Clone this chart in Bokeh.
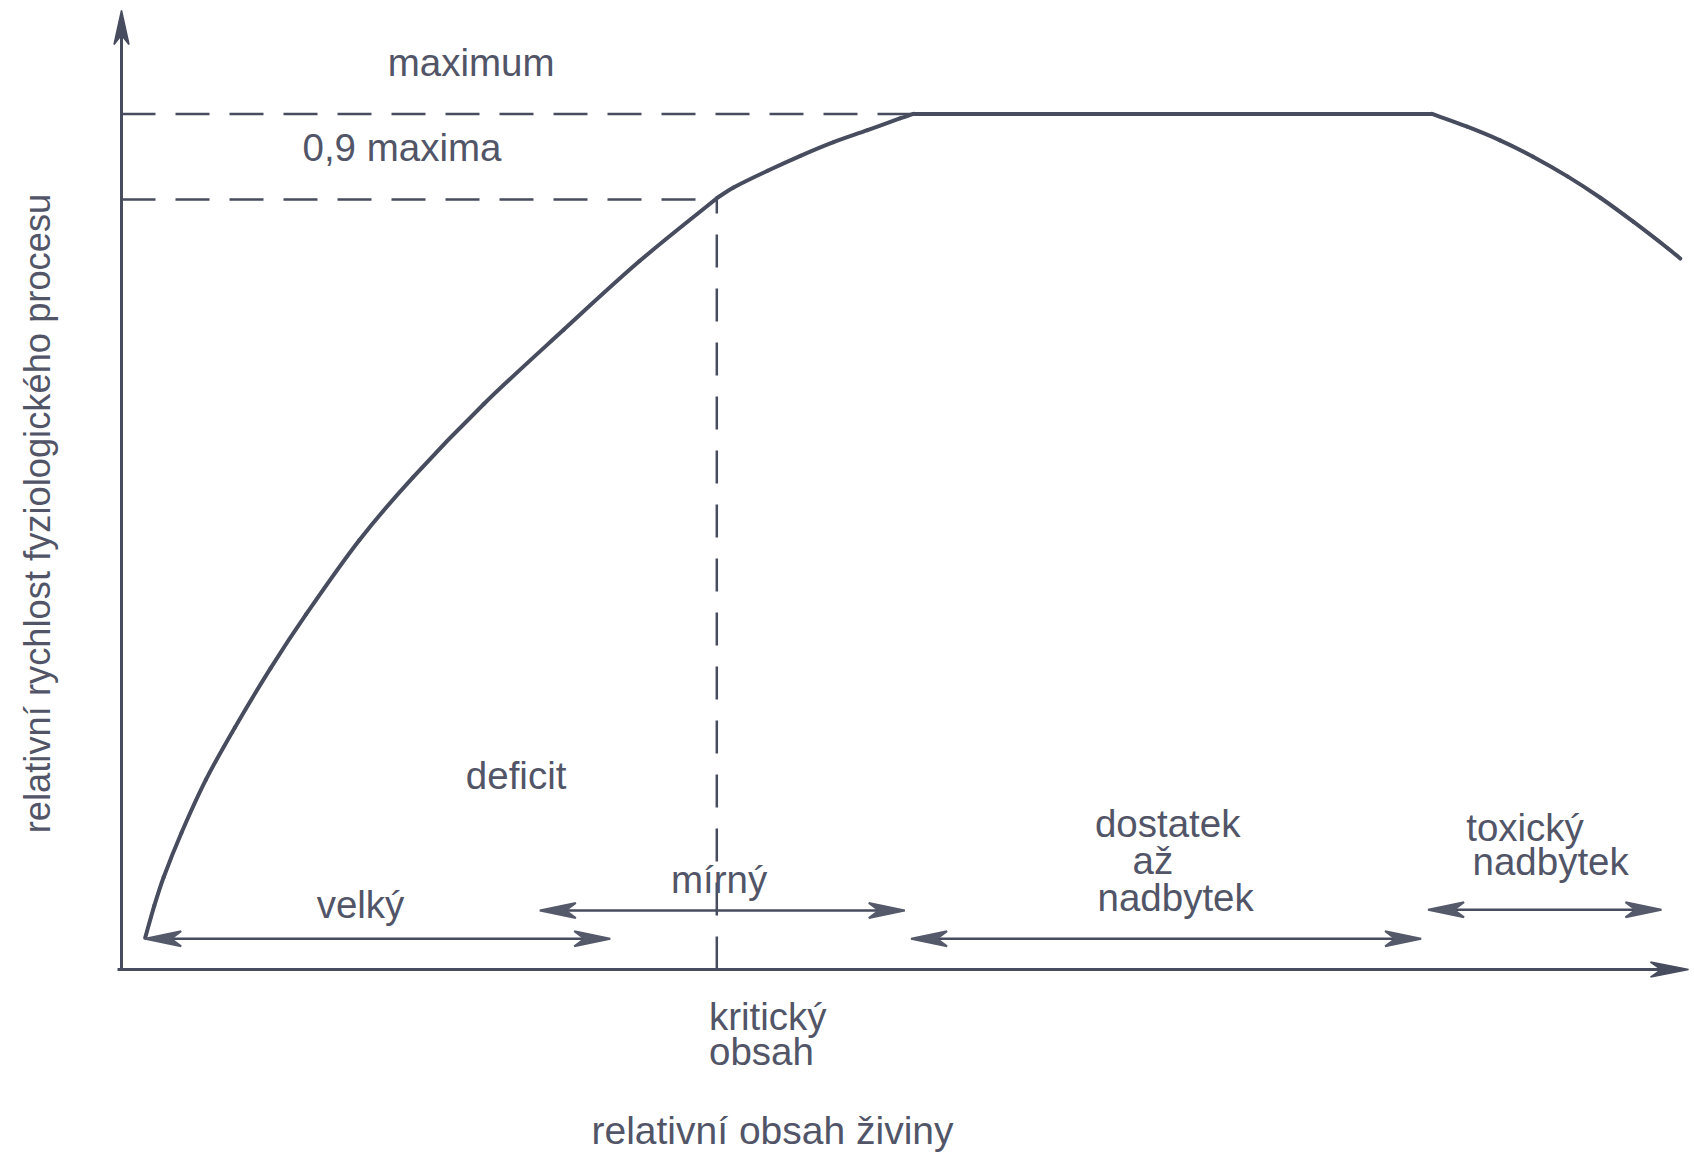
import math
from bokeh.plotting import figure
from bokeh.models import Range1d, ColumnDataSource, Label
from bokeh.core.properties import value
from bokeh.embed import file_html
from bokeh.resources import INLINE

# ---------------- data ----------------
nutrient = [1.51, 2.10, 2.69, 3.83, 5.39, 7.24, 9.51, 11.78, 15.19, 18.59, 23.13,
            28.24, 33.07, 38.0, 39.07, 41.24, 43.34, 45.45, 47.62, 49.73, 50.55,
            83.65, 85.9, 88.0, 90.1, 92.3, 94.4, 96.5, 98.7, 99.5]
rate = [0.037, 0.075, 0.108, 0.160, 0.222, 0.283, 0.352, 0.415, 0.502, 0.575, 0.661,
        0.748, 0.828, 0.9015, 0.914, 0.9335, 0.951, 0.967, 0.981, 0.995, 1.0,
        1.0, 0.985, 0.969, 0.950, 0.927, 0.902, 0.874, 0.843, 0.831]

maximum_rate = 1.0
critical_rate = 0.9
critical_content = 38.0
plateau_start = 50.55
plateau_end = 83.65

zone_names = ["velký", "mírný", "dostatek až nadbytek", "toxický nadbytek"]
zone_start = [1.51, 26.7, 50.4, 83.4]
zone_end = [31.2, 50.0, 82.96, 98.3]
zone_level = [0.036, 0.069, 0.036, 0.070]

label_texts = ["maximum", "0,9 maxima", "deficit", "velký", "mírný",
               "dostatek", "až", "nadbytek", "toxický", "nadbytek",
               "kritický", "obsah", "relativní obsah živiny"]
y_title = "relativní rychlost fyziologického procesu"

# --------------- layout ---------------
W, H = 1694, 1156
PX_X = 15.666   # pixels per x unit
PX_Y = 855.7    # pixels per y unit
ORIGIN_X = 121.0
ORIGIN_Y = 969.1

def dx(px):
    return (px - ORIGIN_X) / PX_X

def dy(py):
    return (ORIGIN_Y - py) / PX_Y

label_x = [dx(v) for v in [470.6, 401.5, 515.6, 360.0, 718.5, 1094.4, 1132.0, 1097.0,
                           1465.7, 1472.0, 708.5, 708.5, 772.0]]
label_y = [dy(v) for v in [61.7, 147.2, 774.7, 903.7, 878.8, 823.4, 859.6, 896.5,
                           826.5, 861.2, 1015.5, 1051.0, 1130.0]]
label_align = ["center", "center", "center", "center", "center", "left", "left", "left",
               "left", "left", "left", "left", "center"]
label_size = ["38.5px"] * 12 + ["39px"]

LINE = "#474c5e"
HEAD = "#555a6b"
TEXT = "#515567"
FONT = "Liberation Sans"

p = figure(width=W, height=H, x_range=Range1d(dx(0), dx(W)),
           y_range=Range1d(dy(H), dy(0)), output_backend="svg",
           toolbar_location=None, x_axis_type=None, y_axis_type=None,
           min_border=0, min_border_left=0, min_border_right=0,
           min_border_top=0, min_border_bottom=0, outline_line_color=None,
           background_fill_color="white", border_fill_color="white")

# axes (drawn as arrows)
x_tip = dx(1688)
y_tip = dy(10)
p.line([dx(117), x_tip - 20 / PX_X], [0, 0], line_color=LINE, line_width=3)
p.line([0, 0], [0, y_tip - 20 / PX_Y], line_color=LINE, line_width=3)

def head(xt, yt, direction, L=36.0, w=7.5, notch=0.72):
    if direction in ("right", "left"):
        d = 1 if direction == "right" else -1
        xs = [xt, xt - d * L / PX_X, xt - d * notch * L / PX_X, xt - d * L / PX_X]
        ys = [yt, yt + w / PX_Y, yt, yt - w / PX_Y]
    else:
        xs = [xt, xt + w / PX_X, xt, xt - w / PX_X]
        ys = [yt, yt - L / PX_Y, yt - notch * L / PX_Y, yt - L / PX_Y]
    return xs, ys

hx, hy = [], []
for xs, ys in [head(x_tip, 0, "right", L=38, w=7.5), head(0, y_tip, "up", L=34, w=7.5)]:
    hx.append(xs); hy.append(ys)
p.patches(hx, hy, fill_color=LINE, line_color=LINE, line_width=1.5)

# dashed guide lines
p.line([0, plateau_start], [maximum_rate, maximum_rate], line_color=LINE,
       line_width=2.5, line_dash="34 20")
p.line([0, critical_content], [critical_rate, critical_rate], line_color=LINE,
       line_width=2.5, line_dash="34 20")
p.line([critical_content, critical_content], [0, critical_rate], line_color=LINE,
       line_width=2.5, line_dash="33 21")

# response curve: smooth rendering through the read points (piecewise, with
# corners kept at the critical point and at both ends of the plateau)
def bezier_pieces(xs, ys):
    P = [(x * PX_X, y * PX_Y) for x, y in zip(xs, ys)]
    n = len(P)
    d = [math.hypot(P[i + 1][0] - P[i][0], P[i + 1][1] - P[i][1]) for i in range(n - 1)]
    T = []
    for i in range(n):
        if i == 0:
            T.append(((P[1][0] - P[0][0]) / d[0], (P[1][1] - P[0][1]) / d[0]))
        elif i == n - 1:
            T.append(((P[-1][0] - P[-2][0]) / d[-1], (P[-1][1] - P[-2][1]) / d[-1]))
        else:
            s = d[i - 1] + d[i]
            T.append(((P[i + 1][0] - P[i - 1][0]) / s, (P[i + 1][1] - P[i - 1][1]) / s))
    out = dict(x0=[], y0=[], x1=[], y1=[], cx0=[], cy0=[], cx1=[], cy1=[])
    for i in range(n - 1):
        a, b = P[i], P[i + 1]
        c0 = (a[0] + T[i][0] * d[i] / 3, a[1] + T[i][1] * d[i] / 3)
        c1 = (b[0] - T[i + 1][0] * d[i] / 3, b[1] - T[i + 1][1] * d[i] / 3)
        out["x0"].append(a[0] / PX_X); out["y0"].append(a[1] / PX_Y)
        out["x1"].append(b[0] / PX_X); out["y1"].append(b[1] / PX_Y)
        out["cx0"].append(c0[0] / PX_X); out["cy0"].append(c0[1] / PX_Y)
        out["cx1"].append(c1[0] / PX_X); out["cy1"].append(c1[1] / PX_Y)
    return out

i_crit = nutrient.index(critical_content)
i_ps = nutrient.index(plateau_start)
i_pe = nutrient.index(plateau_end)
pieces = [(0, i_crit), (i_crit, i_ps), (i_pe, len(nutrient) - 1)]
for a, b in pieces:
    seg = bezier_pieces(nutrient[a:b + 1], rate[a:b + 1])
    p.bezier(source=ColumnDataSource(seg), x0="x0", y0="y0", x1="x1", y1="y1",
             cx0="cx0", cy0="cy0", cx1="cx1", cy1="cy1",
             line_color=LINE, line_width=4, line_cap="round")
p.line(nutrient[i_ps:i_pe + 1], rate[i_ps:i_pe + 1], line_color=LINE, line_width=4,
       line_cap="round")

# zone double arrows
ax, ay = [], []
for s, e, lv in zip(zone_start, zone_end, zone_level):
    p.line([s + 20 / PX_X, e - 20 / PX_X], [lv, lv], line_color=LINE, line_width=2.5)
    for xs, ys in [head(s, lv, "left"), head(e, lv, "right")]:
        ax.append(xs); ay.append(ys)
p.patches(ax, ay, fill_color=HEAD, line_color=HEAD, line_width=2)

# labels
src = ColumnDataSource(dict(x=label_x, y=label_y, text=label_texts,
                            align=label_align, size=label_size))
p.text(x="x", y="y", text="text", source=src, text_align="align",
       text_baseline="alphabetic", text_font=value(FONT),
       text_font_size="size", text_color=TEXT)

p.add_layout(Label(x=dx(37.1), y=dy(513), text=y_title, angle=math.pi / 2,
                   text_align="center", text_baseline="alphabetic",
                   text_font=FONT, text_font_size="36.3px", text_color=TEXT))

open("out.html", "w").write(file_html(p, INLINE))
